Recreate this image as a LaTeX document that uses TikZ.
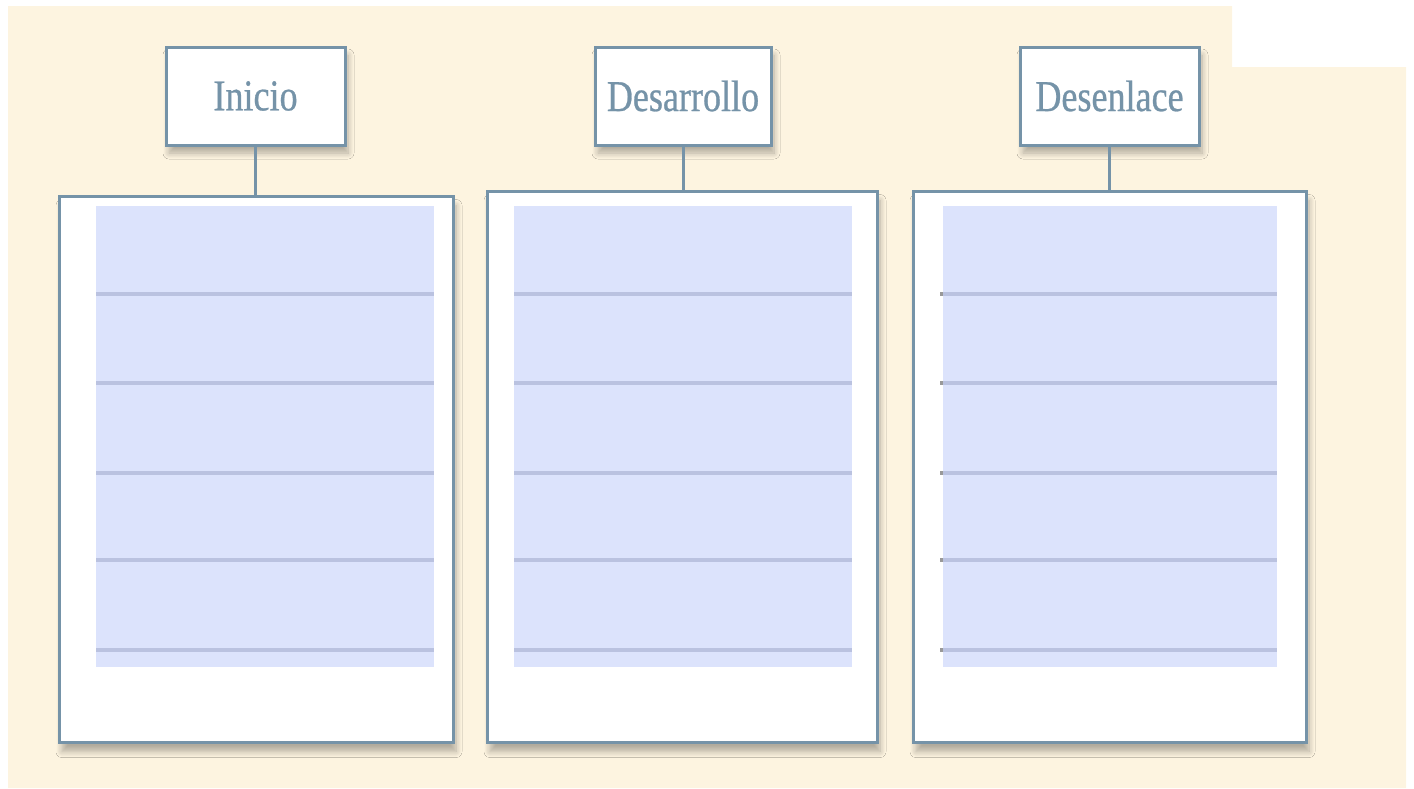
\documentclass[tikz,border=0pt]{standalone}
\usepackage{fontspec}
\newfontfamily\tagfont{Liberation Serif}[FakeStretch=0.82,FakeBold=0.6]
\usetikzlibrary{shadows.blur}
\definecolor{cream}{HTML}{FDF4E0}
\definecolor{steel}{HTML}{7593A8}
\definecolor{sheet}{HTML}{DCE3FC}
\definecolor{rule}{HTML}{BAC2E0}

\begin{document}
\begin{tikzpicture}[x=0.5pt,y=-0.5pt,
  tag/.style={draw=steel,line width=1.5pt,fill=white,inner sep=0pt,
    minimum height=49pt,text=steel,font=\tagfont\fontsize{22}{26}\selectfont,
    blur shadow={shadow xshift=1.5pt,shadow yshift=-4pt,shadow opacity=30,
      shadow blur radius=3pt,shadow blur steps=8}},
  panel/.style={draw=steel,line width=1.5pt,fill=white,inner sep=0pt,
    blur shadow={shadow xshift=1.5pt,shadow yshift=-4.5pt,shadow opacity=30,
      shadow blur radius=3pt,shadow blur steps=8}},
  link/.style={draw=steel,line width=1.5pt}]
  \useasboundingbox (0,0) rectangle (1414,788);
  % background with the notch at the top right
  \fill[cream] (8,6) -- (1232,6) -- (1232,67) -- (1406,67) -- (1406,788) -- (8,788) -- cycle;

  % one column per part of the story
  \foreach \name/\txt/\cx/\tw/\px/\pw/\pt/\ix/\ie in
    {inicio/Inicio/255.5/179/256/394/195/96/434,
     desarrollo/Desarrollo/683/176/682/390/190/514/852,
     desenlace/Desenlace/1109.5/179/1109.5/393/190/943/1277}
  {
    \node[panel,minimum width=\pw*0.5pt,minimum height={(741-\pt)*0.5pt},anchor=north]
      (\name-panel) at (\px,\pt) {};
    \node[tag,minimum width=\tw*0.5pt] (\name) at (\cx,96) {\txt};
    \draw[link] (\name.south) -- (\name.south |- \name-panel.north);
    \fill[sheet] (\ix,206) rectangle (\ie,667);
    \foreach \ly in {294,383,473,560,650}
      \draw[rule,line width=2pt] (\ix,\ly) -- (\ie,\ly);
  }
  % small ticks on the left of the last sheet
  \foreach \ly in {294,383,473,560,650}
    \draw[gray!80,line width=2pt] (940,\ly) -- (943,\ly);
\end{tikzpicture}
\end{document}
